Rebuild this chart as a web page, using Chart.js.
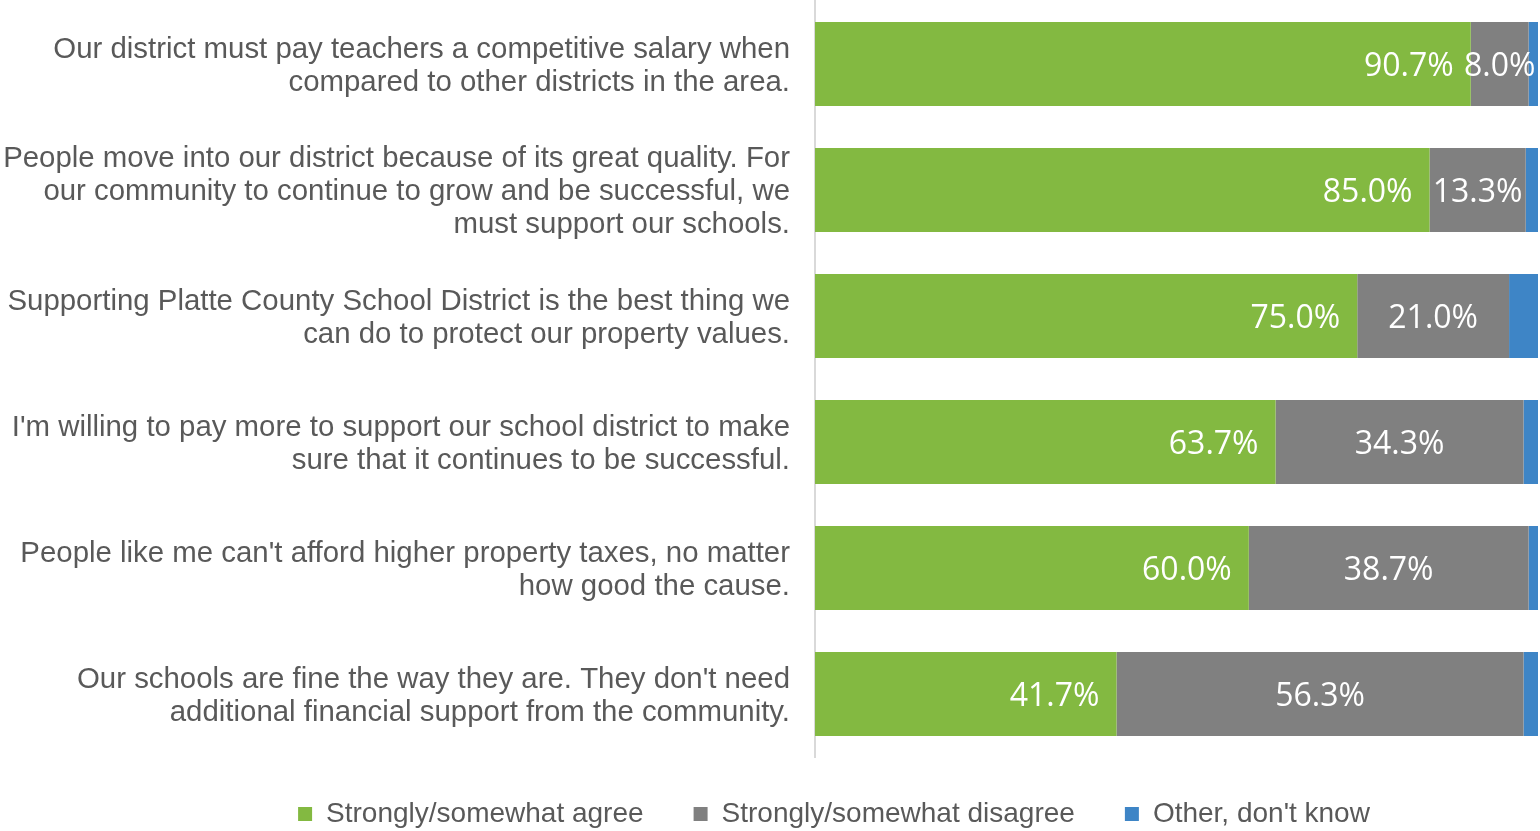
<!DOCTYPE html>
<html>
<head>
<meta charset="utf-8">
<script src="https://cdn.jsdelivr.net/npm/chart.js@4.4.1/dist/chart.umd.min.js"></script>
<style>
  html, body { margin: 0; padding: 0; background: #ffffff; }
  #wrap { width: 1540px; height: 831px; position: relative; }
</style>
</head>
<body>
<div id="wrap"><canvas id="c"></canvas></div>
<script>
const categories = [
  ["Our district must pay teachers a competitive salary when", "compared to other districts in the area."],
  ["People move into our district because of its great quality. For", "our community to continue to grow and be successful, we", "must support our schools."],
  ["Supporting Platte County School District is the best thing we", "can do to protect our property values."],
  ["I'm willing to pay more to support our school district to make", "sure that it continues to be successful."],
  ["People like me can't afford higher property taxes, no matter", "how good the cause."],
  ["Our schools are fine the way they are. They don't need", "additional financial support from the community."]
];
const seriesNames = ["Strongly/somewhat agree", "Strongly/somewhat disagree", "Other, don't know"];
const agreeValues = [90.7, 85.0, 75.0, 63.7, 60.0, 41.7];
const disagreeValues = [8.0, 13.3, 21.0, 34.3, 38.7, 56.3];
const otherValues = [1.3, 1.7, 4.0, 2.0, 1.3, 2.0];
const seriesColors = ["#83B941", "#808080", "#3E85C6"];

const labelFamily = "'Liberation Sans', Arial, sans-serif";

const dataLabelPlugin = {
  id: 'dataLabels',
  afterDatasetsDraw(chart) {
    const ctx = chart.ctx;
    ctx.save();
    ctx.font = "32px 'Open Sans', sans-serif";
    ctx.fillStyle = '#ffffff';
    ctx.textBaseline = 'middle';
    [0, 1].forEach(di => {
      const meta = chart.getDatasetMeta(di);
      const values = chart.data.datasets[di].data;
      meta.data.forEach((bar, i) => {
        const txt = values[i].toFixed(1) + '%';
        if (di === 0) {
          ctx.textAlign = 'right';
          ctx.fillText(txt, bar.x - 17, bar.y + 3);
        } else {
          ctx.textAlign = 'center';
          ctx.fillText(txt, (bar.x + bar.base) / 2, bar.y + 3);
        }
      });
    });
    ctx.restore();
  }
};

const legendShiftPlugin = {
  id: 'legendShift',
  afterLayout(chart) {
    const lg = chart.legend;
    if (lg) { lg.left += 65; lg.right += 65; lg.top -= 7; }
  }
};

new Chart(document.getElementById('c'), {
  type: 'bar',
  data: {
    labels: categories,
    datasets: [
      { label: seriesNames[0], data: agreeValues, backgroundColor: seriesColors[0], borderWidth: 0 },
      { label: seriesNames[1], data: disagreeValues, backgroundColor: seriesColors[1], borderWidth: 0 },
      { label: seriesNames[2], data: otherValues, backgroundColor: seriesColors[2], borderWidth: 0 }
    ]
  },
  options: {
    indexAxis: 'y',
    responsive: true,
    maintainAspectRatio: false,
    animation: false,
    categoryPercentage: 1,
    barPercentage: 0.667,
    layout: { padding: { left: 0, right: 2, top: 1, bottom: -14 } },
    scales: {
      x: { stacked: true, min: 0, max: 100, display: false },
      y: {
        stacked: true,
        afterFit(scale) {
          scale.width = 815;
          scale.paddingTop = 0;
          scale.paddingBottom = 0;
        },
        grid: { display: false, drawTicks: false },
        border: { display: true, color: '#d9d9d9', width: 2 },
        ticks: {
          padding: 25,
          labelOffset: 2,
          color: '#595959',
          font: { family: labelFamily, size: 29.4, lineHeight: 1.12 }
        }
      }
    },
    plugins: {
      legend: {
        position: 'bottom',
        labels: {
          boxWidth: 14,
          boxHeight: 14,
          padding: 50,
          color: '#595959',
          font: { family: labelFamily, size: 28 }
        }
      },
      tooltip: { enabled: false }
    }
  },
  plugins: [dataLabelPlugin, legendShiftPlugin]
});
</script>
</body>
</html>
